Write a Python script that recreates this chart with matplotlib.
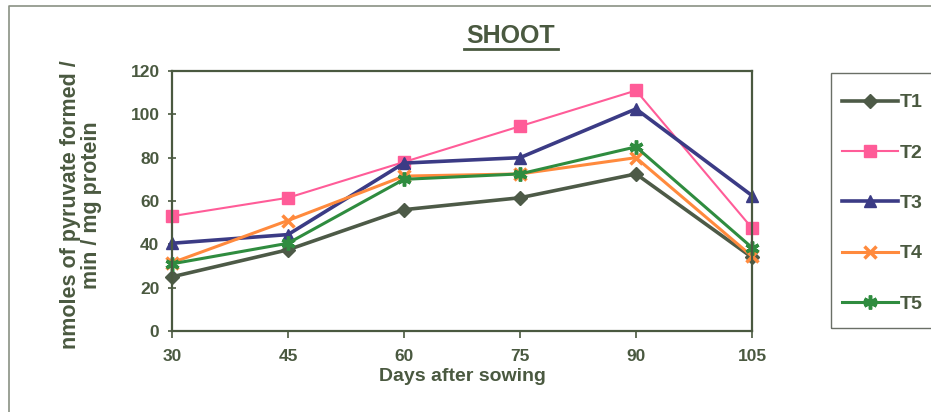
import matplotlib
matplotlib.use("Agg")
import matplotlib.pyplot as plt
from matplotlib.lines import Line2D
from matplotlib.patches import Rectangle
import numpy as np

plt.rcParams['font.family'] = ['Liberation Sans', 'DejaVu Sans']

days = [30, 45, 60, 75, 90, 105]
t1 = [25, 37.5, 56, 61.5, 72.5, 34]
t2 = [53, 61.5, 78, 94.5, 111, 47.5]
t3 = [40.5, 44.5, 77.5, 80, 102.5, 62.5]
t4 = [31.5, 51, 71.5, 72.5, 80, 34.5]
t5 = [31, 40.5, 70, 72.5, 85, 38.5]
labels = ['T1', 'T2', 'T3', 'T4', 'T5']

txt = '#4a5940'

fig = plt.figure(figsize=(9.31, 4.12), dpi=100)
ax = fig.add_axes([172/931, 1-331/412, 580/931, 260/412])

styles = [
    dict(color='#4d5a47', marker='D', lw=2.6, ms=7),
    dict(color='#ff5c98', marker='s', lw=1.5, ms=8),
    dict(color='#3b3b85', marker='^', lw=2.6, ms=9),
    dict(color='#ff8a3d', marker='x', lw=2.2, ms=8, mew=2.5),
    dict(color='#2f8c3f', marker=(6, 2, 0), lw=2.2, ms=10, mew=2.5),
]
for vals, lab, st in zip([t1, t2, t3, t4, t5], labels, styles):
    ax.plot(days, vals, label=lab, clip_on=False, **st)

ax.set_xlim(30, 105)
ax.set_ylim(0, 120)
ax.set_xticks(days)
ax.set_yticks(np.arange(0, 121, 20))
for s in ax.spines.values():
    s.set_color(txt)
    s.set_linewidth(1.6)
ax.tick_params(axis='y', direction='inout', length=6, width=1.2, color=txt,
               labelsize=12.5, labelcolor=txt, pad=6)
ax.tick_params(axis='x', direction='out', length=5, width=1.2, color=txt,
               labelsize=12.5, labelcolor=txt, pad=8)
for lbl in ax.get_xticklabels() + ax.get_yticklabels():
    lbl.set_fontweight('bold')

ax.set_xlabel('Days after sowing', fontsize=14, fontweight='bold', color=txt, labelpad=3)
fig.text(81/931, 1-205/412, 'nmoles of pyruvate formed /\nmin / mg protein',
         rotation=90, ha='center', va='center', fontsize=15.5,
         fontweight='bold', color=txt, linespacing=1.0)

fig.text(511/931, 1-36/412, 'SHOOT', ha='center', va='center', fontsize=18,
         fontweight='bold', color=txt)
fig.add_artist(Line2D([464/931, 558/931], [1-49/412, 1-49/412], color=txt, lw=2))

# outer chart border
fig.add_artist(Line2D([9/931, 9/931, 1.0], [0, 1-6/412, 1-6/412], color='#8a9184', lw=1.2))

# legend frame drawn by hand, entries placed inside it
fig.add_artist(Rectangle((831/931, 1-328/412), 110/931, 255/412,
                         transform=fig.transFigure, fill=False,
                         edgecolor='#6a6f66', lw=1.0))
leg = fig.legend(loc='upper left', bbox_to_anchor=(832/931, 1-84/412),
                 fontsize=14, handlelength=2.9, labelspacing=1.685,
                 handletextpad=0.1, borderpad=0, frameon=False)
for t in leg.get_texts():
    t.set_fontweight('bold')
    t.set_color(txt)

fig.savefig('out.png', dpi=100)
